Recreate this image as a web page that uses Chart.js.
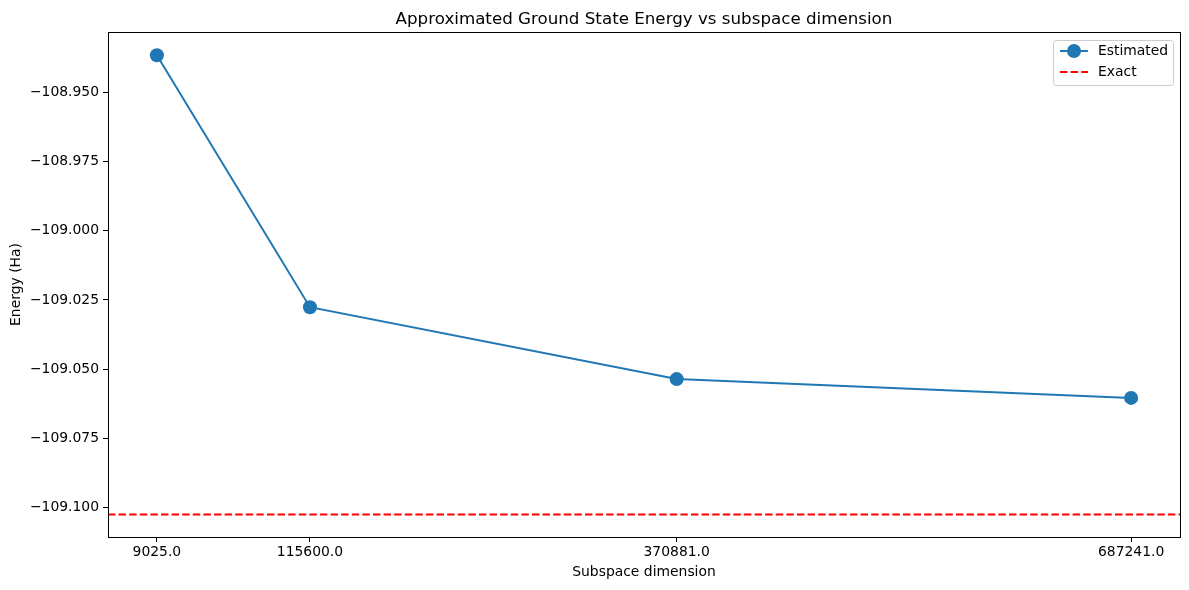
<!DOCTYPE html>
<html>
<head>
<meta charset="utf-8">
<script src="https://cdn.jsdelivr.net/npm/chart.js@4.4.0/dist/chart.umd.min.js"></script>
<style>
html,body{margin:0;padding:0;background:#fff;}
#wrap{width:1189px;height:590px;}
</style>
</head>
<body>
<div id="wrap"><canvas id="grafica" width="1189" height="590"></canvas></div>
<script>
// datos
const dimensiones=[9025,115600,370881,687241];
const energias=[-108.9365,-109.0276,-109.0536,-109.0604];
const energiaExacta=-109.1026;
const ticksY=[-108.95,-108.975,-109.0,-109.025,-109.05,-109.075,-109.1];
const xMin=-25000, xMax=721270;
const yMin=-109.1107, yMax=-108.9281;

const fuente="'DejaVu Sans', sans-serif";
const azul="#1f77b4";

function fmtY(v){
    const s=Math.abs(v).toFixed(3);
    return (v<0?"\u2212":"")+s;
}

//linea horizontal, marco, titulo y leyenda
const extras={
    id:"extras",
    beforeDatasetsDraw(chart){
        const {ctx,chartArea:a,scales}=chart;
        const y=scales.y.getPixelForValue(energiaExacta);
        ctx.save();
        ctx.beginPath();
        ctx.rect(a.left,a.top,a.right-a.left,a.bottom-a.top);
        ctx.clip();
        ctx.strokeStyle="red";
        ctx.lineWidth=2;
        ctx.setLineDash([7.4,3.2]);
        ctx.beginPath();
        ctx.moveTo(a.left,y);
        ctx.lineTo(a.right,y);
        ctx.stroke();
        ctx.restore();
    },
    afterDraw(chart){
        const {ctx,chartArea:a}=chart;
        ctx.save();
        ctx.strokeStyle="#000";
        ctx.lineWidth=1;
        ctx.strokeRect(Math.round(a.left)+0.5,Math.round(a.top)+0.5,Math.round(a.right-a.left),Math.round(a.bottom-a.top));
        ctx.fillStyle="#000";
        ctx.font="16.7px "+fuente;
        ctx.textAlign="center";
        ctx.textBaseline="alphabetic";
        ctx.fillText("Approximated Ground State Energy vs subspace dimension",(a.left+a.right)/2,24);
        // leyenda
        const lx=1053, ly=40, lw=120, lh=45;
        ctx.fillStyle="rgba(255,255,255,0.8)";
        ctx.strokeStyle="#cccccc";
        ctx.beginPath();
        ctx.roundRect(lx+0.5,ly+0.5,lw,lh,3);
        ctx.fill();
        ctx.stroke();
        ctx.strokeStyle=azul;
        ctx.lineWidth=2;
        ctx.beginPath();
        ctx.moveTo(lx+7,ly+11);
        ctx.lineTo(lx+35,ly+11);
        ctx.stroke();
        ctx.fillStyle=azul;
        ctx.beginPath();
        ctx.arc(lx+21,ly+11,7,0,Math.PI*2);
        ctx.fill();
        ctx.strokeStyle="red";
        ctx.setLineDash([7.4,3.2]);
        ctx.beginPath();
        ctx.moveTo(lx+7,ly+32);
        ctx.lineTo(lx+35,ly+32);
        ctx.stroke();
        ctx.setLineDash([]);
        ctx.fillStyle="#000";
        ctx.font="13.9px "+fuente;
        ctx.textAlign="left";
        ctx.textBaseline="middle";
        ctx.fillText("Estimated",lx+45,ly+11);
        ctx.fillText("Exact",lx+45,ly+32);
        ctx.restore();
    }
};

const ctx1=document.getElementById("grafica");
new Chart(ctx1,{
    type:"line",
    data:{
        datasets:[
            {
                label:"Estimated",
                data:dimensiones.map((d,i)=>({x:d,y:energias[i]})),
                borderColor:azul,
                backgroundColor:azul,
                borderWidth:2,
                pointRadius:7,
                pointHoverRadius:7,
                pointBorderWidth:0,
                tension:0
            }
        ]
    },
    plugins:[extras],
    options:{
        responsive:false,
        animation:false,
        layout:{padding:{left:0,right:9,top:32,bottom:0}},
        plugins:{
            legend:{display:false},
            title:{display:false},
            tooltip:{enabled:false}
        },
        scales:{
            x:{
                type:"linear",
                min:xMin,
                max:xMax,
                afterBuildTicks(s){ s.ticks=dimensiones.map(v=>({value:v})); },
                afterFit(s){ s.height=53; },
                grid:{drawOnChartArea:false,tickLength:5,tickColor:"#000",tickWidth:1},
                border:{display:false},
                ticks:{
                    color:"#000",
                    font:{family:fuente,size:13.9},
                    padding:2,
                    maxRotation:0,
                    callback:v=>v.toFixed(1)
                },
                title:{
                    display:true,
                    text:"Subspace dimension",
                    color:"#000",
                    font:{family:fuente,size:13.9},
                    padding:{top:2,bottom:9}
                }
            },
            y:{
                min:yMin,
                max:yMax,
                afterBuildTicks(s){ s.ticks=ticksY.map(v=>({value:v})); },
                afterFit(s){ s.width=108; },
                grid:{drawOnChartArea:false,tickLength:5,tickColor:"#000",tickWidth:1},
                border:{display:false},
                ticks:{
                    color:"#000",
                    font:{family:fuente,size:13.9},
                    padding:4,
                    callback:v=>fmtY(v)
                },
                title:{
                    display:true,
                    text:"Energy (Ha)",
                    color:"#000",
                    font:{family:fuente,size:13.9},
                    padding:{top:8,bottom:0}
                }
            }
        }
    }
});
</script>
</body>
</html>
